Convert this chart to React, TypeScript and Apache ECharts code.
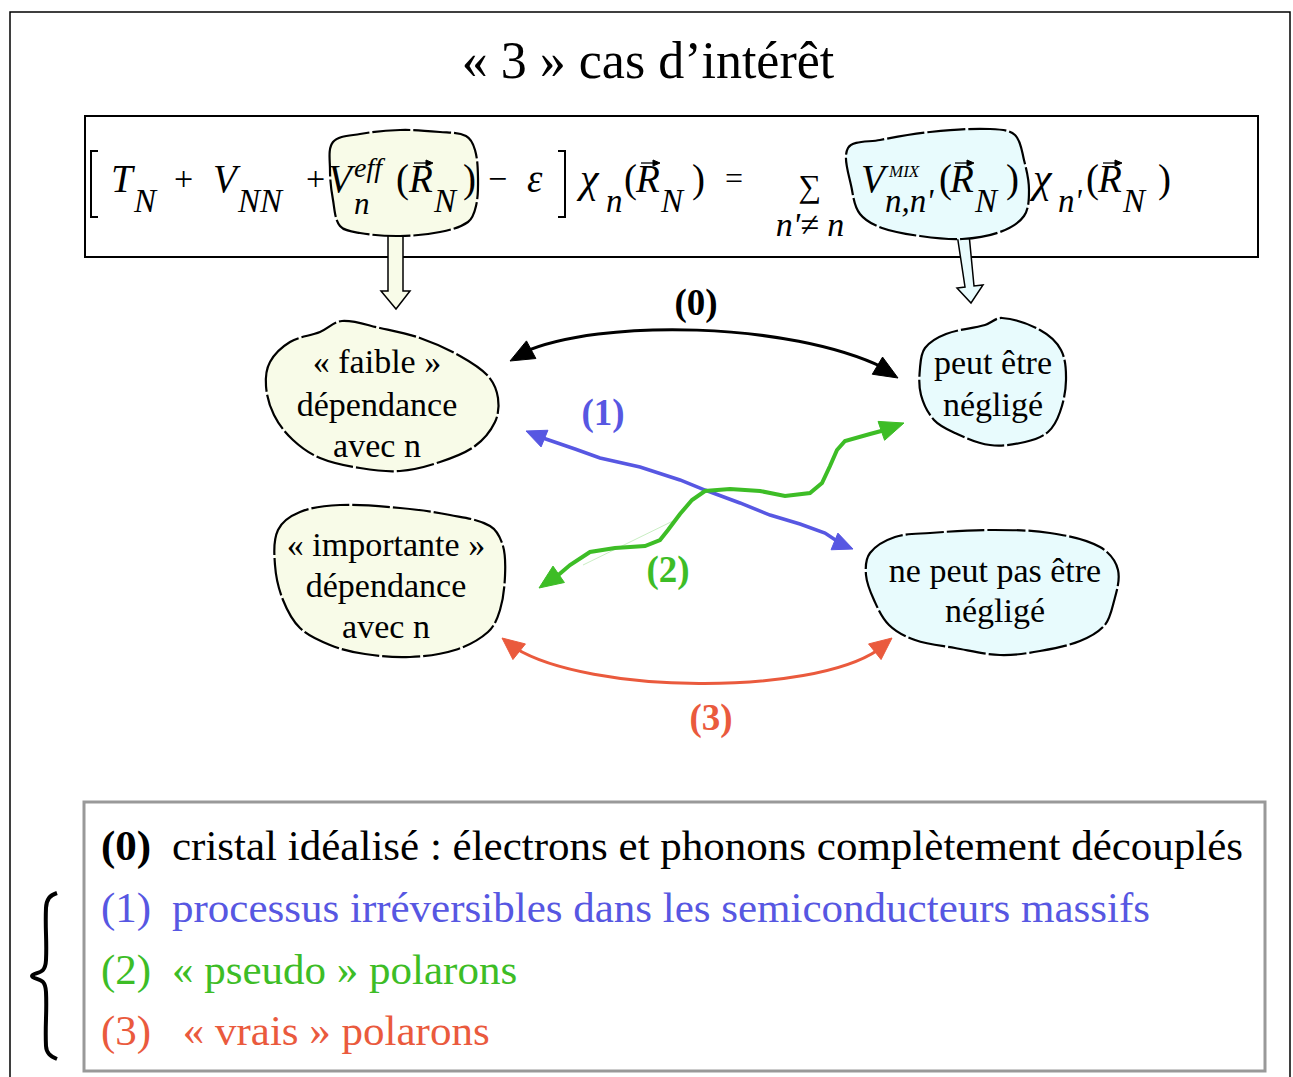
import React, { useEffect, useRef } from "react";
import * as echarts from "echarts";

const TITLE = "« 3 » cas d’intérêt";
const NODE_LABELS: string[][] = [
  ["« faible »", "dépendance", "avec n"],
  ["peut être", "négligé"],
  ["« importante »", "dépendance", "avec n"],
  ["ne peut pas être", "négligé"],
];
const ARROW_LABELS = ["(0)", "(1)", "(2)", "(3)"];
const SERIES_COLORS = ["#000000", "#5757e2", "#3dbd26", "#ea5a3d"];
const LEGEND_TAGS = ["(0)", "(1)", "(2)", "(3)"];
const LEGEND_TEXTS = [
  "cristal idéalisé : électrons et phonons complètement découplés",
  "processus irréversibles dans les semiconducteurs massifs",
  "« pseudo » polarons",
  " « vrais » polarons",
];

const SERIF = '"Liberation Serif", "Times New Roman", serif';
const YELLOW = "#f8fbe8";
const CYAN = "#e8fbfd";

function txt(text: string, x: number, y: number, size: number, opts: any = {}) {
  return {
    type: "text",
    x,
    y,
    z: opts.z ?? 10,
    style: {
      text,
      fill: opts.fill ?? "#000",
      font: `${opts.style ?? "normal"} ${opts.weight ?? "normal"} ${size}px ${SERIF}`,
      textAlign: opts.align ?? "left",
      textVerticalAlign: opts.valign ?? "middle",
    },
  };
}

function head(tx: number, ty: number, fx: number, fy: number, len: number, wid: number, color: string) {
  const dx = tx - fx, dy = ty - fy;
  const d = Math.hypot(dx, dy) || 1;
  const ux = dx / d, uy = dy / d;
  const bx = tx - ux * len, by = ty - uy * len;
  const px = -uy * wid / 2, py = ux * wid / 2;
  return {
    type: "polygon",
    z: 6,
    shape: { points: [[tx, ty], [bx + px, by + py], [bx - px, by - py]] },
    style: { fill: color, stroke: color, lineWidth: 1 },
  };
}

function blob(points: number[][], fill: string, z = 2) {
  return {
    type: "polygon",
    z,
    shape: { points, smooth: 0.35 },
    style: { fill, stroke: "#000", lineWidth: 2.2, lineDash: [38, 3] },
  };
}

function vecR(x: number, y: number) {
  return [
    { type: "line", z: 10, shape: { x1: x, y1: y, x2: x + 14, y2: y }, style: { stroke: "#000", lineWidth: 1.3 } },
    head(x + 19, y, x + 10, y, 7, 6, "#000"),
  ];
}

export default function App() {
  const ref = useRef<HTMLDivElement>(null);
  useEffect(() => {
    const chart = echarts.init(ref.current!, null, { renderer: "svg" });
    const els: any[] = [];

    els.push({ type: "rect", z: 0, shape: { x: 10, y: 12, width: 1280, height: 1085 }, style: { fill: "#fff", stroke: "#000", lineWidth: 1.5 } });
    els.push(txt(TITLE, 648, 60, 52, { align: "center" }));

    els.push({ type: "rect", z: 1, shape: { x: 85, y: 116, width: 1173, height: 141 }, style: { fill: "none", stroke: "#000", lineWidth: 2 } });

    els.push({
      type: "polygon", z: 1,
      shape: { points: [[388, 228], [403, 228], [403, 291], [410, 291], [396, 309], [381, 291], [388, 291]] },
      style: { fill: YELLOW, stroke: "#000", lineWidth: 1.5 },
    });
    els.push({
      type: "polygon", z: 1,
      shape: { points: [[957, 234], [969, 234], [974, 286], [983, 285], [971, 303], [957, 288], [965, 287]] },
      style: { fill: CYAN, stroke: "#000", lineWidth: 1.5 },
    });

    els.push(blob([[333, 142], [360, 134], [400, 130], [440, 132], [466, 136], [475, 150], [478, 178], [476, 206], [468, 222], [440, 232], [400, 236], [360, 233], [340, 226], [333, 200], [330, 170]], YELLOW));
    els.push(blob([[848, 148], [880, 140], [930, 132], [990, 129], [1015, 135], [1024, 160], [1029, 190], [1024, 216], [1000, 232], [962, 239], [920, 236], [882, 228], [860, 214], [852, 190]], CYAN));

    const M = 39, S = 33, yM = 178, yS = 201;
    const it = { style: "italic" };
    els.push({ type: "polyline", z: 10, shape: { points: [[98, 151], [91, 151], [91, 217], [98, 217]] }, style: { stroke: "#000", lineWidth: 2, fill: "none" } });
    els.push({ type: "polyline", z: 10, shape: { points: [[558, 151], [565, 151], [565, 217], [558, 217]] }, style: { stroke: "#000", lineWidth: 2, fill: "none" } });
    els.push(txt("T", 111, yM, M, it));
    els.push(txt("N", 134, yS, S, it));
    els.push(txt("+", 174, yM, 34));
    els.push(txt("V", 213, yM, M, it));
    els.push(txt("NN", 238, yS, S, it));
    els.push(txt("+", 306, yM, 34));
    els.push(txt("V", 328, yM, M, it));
    els.push(txt("eff", 354, 167, 28, it));
    els.push(txt("n", 354, yS + 2, 31, it));
    els.push(txt("(", 396, yM, M));
    els.push(txt("R", 409, yM, M, it));
    els.push(...vecR(414, 163));
    els.push(txt("N", 434, yS, S, it));
    els.push(txt(")", 463, yM, M));
    els.push(txt("−", 488, yM, 34));
    els.push(txt("ε", 527, yM, M, it));
    els.push(txt("χ", 580, yM, M + 3, it));
    els.push(txt("n", 606, yS, S, it));
    els.push(txt("(", 624, yM, M));
    els.push(txt("R", 636, yM, M, it));
    els.push(...vecR(641, 163));
    els.push(txt("N", 661, yS, S, it));
    els.push(txt(")", 692, yM, M));
    els.push(txt("=", 725, yM, 32));
    els.push(txt("∑", 810, 186, 32, { align: "center" }));
    els.push(txt("n'≠ n", 810, 224, 34, { align: "center", style: "italic" }));
    els.push(txt("V", 861, yM, M, it));
    els.push(txt("MIX", 889, 171, 17, it));
    els.push(txt("n,n'", 885, yS, S, it));
    els.push(txt("(", 939, yM, M));
    els.push(txt("R", 950, yM, M, it));
    els.push(...vecR(955, 163));
    els.push(txt("N", 975, yS, S, it));
    els.push(txt(")", 1006, yM, M));
    els.push(txt("χ", 1033, yM, M + 3, it));
    els.push(txt("n'", 1058, yS, S, it));
    els.push(txt("(", 1086, yM, M));
    els.push(txt("R", 1098, yM, M, it));
    els.push(...vecR(1103, 163));
    els.push(txt("N", 1123, yS, S, it));
    els.push(txt(")", 1158, yM, M));

    const blobs = [
      [[270, 362], [290, 342], [320, 332], [342, 321], [380, 328], [420, 338], [460, 356], [488, 376], [498, 398], [495, 422], [475, 446], [440, 462], [400, 471], [360, 468], [320, 458], [293, 440], [274, 415], [266, 386]],
      [[925, 348], [946, 334], [985, 325], [1002, 318], [1040, 330], [1061, 350], [1066, 380], [1060, 412], [1048, 432], [1025, 442], [990, 445], [955, 433], [934, 420], [921, 395], [920, 368]],
      [[278, 530], [300, 512], [340, 505], [400, 508], [450, 515], [490, 526], [503, 546], [505, 576], [500, 610], [488, 632], [455, 650], [410, 657], [365, 654], [330, 645], [300, 628], [283, 600], [275, 565]],
      [[870, 553], [895, 537], [930, 533], [990, 530], [1050, 533], [1100, 547], [1118, 570], [1113, 605], [1104, 626], [1080, 641], [1040, 651], [1000, 655], [955, 648], [915, 640], [889, 625], [874, 600], [866, 575]],
    ];
    const fills = [YELLOW, CYAN, YELLOW, CYAN];
    const textPos = [[377, [361, 404, 445]], [993, [362, 404]], [386, [544, 585, 626]], [995, [570, 610]]] as any[];
    blobs.forEach((b, i) => {
      els.push(blob(b, fills[i]));
      NODE_LABELS[i].forEach((line, j) => {
        els.push(txt(line, textPos[i][0], textPos[i][1][j], 34, { align: "center" }));
      });
    });

    const c0 = SERIES_COLORS[0];
    els.push({ type: "bezierCurve", z: 5, shape: { x1: 522, y1: 353, cpx1: 600, cpy1: 318, cpx2: 790, cpy2: 322, x2: 884, y2: 368 }, style: { stroke: c0, lineWidth: 3, fill: "none" } });
    els.push(head(510, 361, 540, 345, 24, 20, c0));
    els.push(head(898, 378, 868, 360, 24, 20, c0));
    els.push(txt(ARROW_LABELS[0], 696, 302, 37, { align: "center", weight: "bold", fill: c0 }));

    const c1 = SERIES_COLORS[1];
    els.push({ type: "polyline", z: 5, shape: { points: [[540, 437], [575, 449], [600, 458], [640, 467], [680, 480], [705, 490], [740, 503], [770, 515], [800, 524], [825, 533], [840, 543]] }, style: { stroke: c1, lineWidth: 3.5, fill: "none" } });
    els.push(head(526, 431, 548, 440, 20, 18, c1));
    els.push(head(853, 549, 831, 540, 20, 18, c1));
    els.push(txt(ARROW_LABELS[1], 603, 412, 37, { align: "center", weight: "bold", fill: c1 }));

    const c2 = SERIES_COLORS[2];
    els.push({ type: "line", z: 4, shape: { x1: 583, y1: 565, x2: 675, y2: 520 }, style: { stroke: "#c9eec3", lineWidth: 1 } });
    els.push({ type: "polyline", z: 5, shape: { points: [[556, 577], [570, 565], [590, 552], [615, 548], [645, 546], [660, 540], [668, 530], [680, 514], [692, 500], [705, 491], [730, 489], [760, 491], [785, 496], [810, 493], [822, 483], [830, 466], [837, 450], [845, 441], [870, 434], [885, 430]] }, style: { stroke: c2, lineWidth: 4, fill: "none" } });
    els.push(head(539, 588, 562, 572, 24, 20, c2));
    els.push(head(904, 423, 878, 432, 24, 20, c2));
    els.push(txt(ARROW_LABELS[2], 668, 569, 37, { align: "center", weight: "bold", fill: c2 }));

    const c3 = SERIES_COLORS[3];
    els.push({ type: "bezierCurve", z: 5, shape: { x1: 515, y1: 648, cpx1: 590, cpy1: 694, cpx2: 810, cpy2: 696, x2: 878, y2: 650 }, style: { stroke: c3, lineWidth: 3, fill: "none" } });
    els.push(head(502, 638, 522, 654, 22, 20, c3));
    els.push(head(892, 638, 872, 654, 22, 20, c3));
    els.push(txt(ARROW_LABELS[3], 711, 717, 37, { align: "center", weight: "bold", fill: c3 }));

    els.push({ type: "rect", z: 1, shape: { x: 84, y: 802, width: 1181, height: 269 }, style: { fill: "#fff", stroke: "#999", lineWidth: 3 } });
    const ly = [845, 907, 969, 1030];
    LEGEND_TAGS.forEach((tag, i) => {
      const fill = SERIES_COLORS[i];
      els.push(txt(tag, 101, ly[i], 43, { fill, weight: i === 0 ? "bold" : "normal" }));
      els.push(txt(LEGEND_TEXTS[i], 172, ly[i], 43, { fill }));
    });

    els.push({
      type: "polyline", z: 5,
      shape: { points: [[57, 893], [49, 898], [46, 908], [46, 960], [43, 970], [32, 976], [43, 982], [46, 992], [46, 1046], [49, 1054], [57, 1059]], smooth: 0.4 },
      style: { stroke: "#000", lineWidth: 4, fill: "none" },
    });

    chart.setOption({ animation: false, graphic: { elements: els } });
    return () => chart.dispose();
  }, []);
  return <div ref={ref} style={{ position: "fixed", left: 0, top: 0, width: 1293, height: 1077, background: "#fff" }} />;
}
